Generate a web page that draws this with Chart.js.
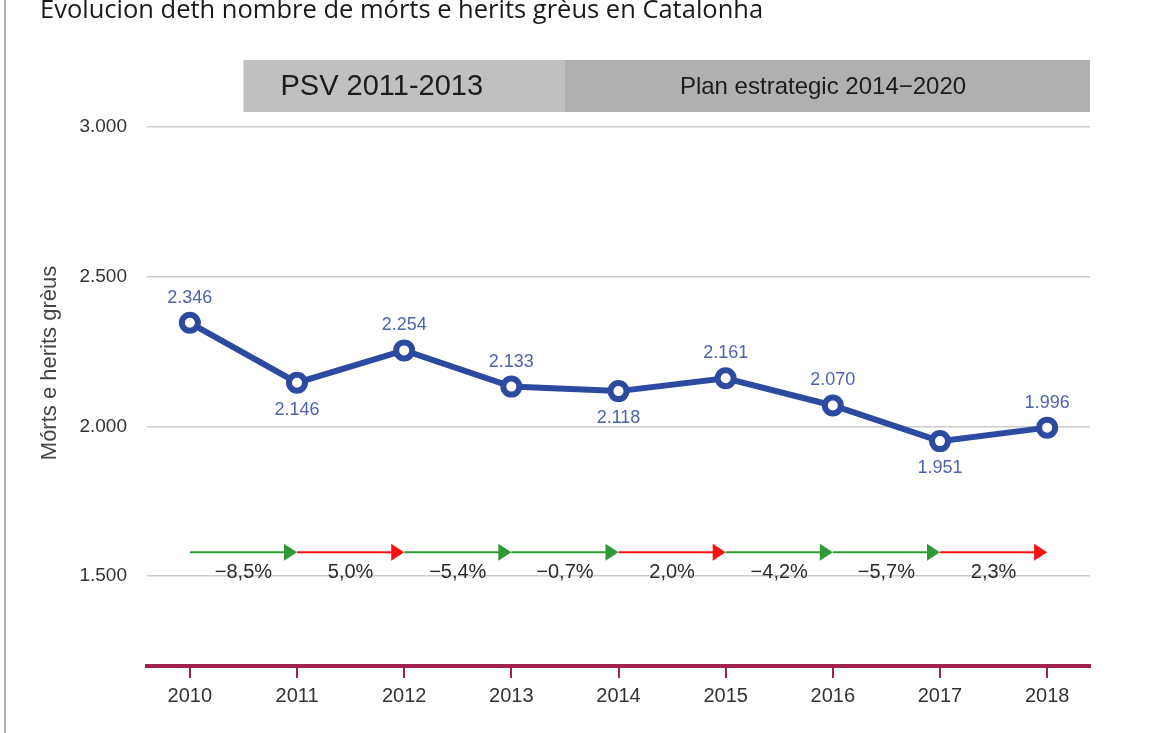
<!DOCTYPE html>
<html>
<head>
<meta charset="utf-8">
<script src="https://cdn.jsdelivr.net/npm/chart.js@4.4.1/dist/chart.umd.min.js"></script>
<style>
    html, body { margin: 0; padding: 0; background: #fff; }
    #wrap { position: relative; width: 1149px; height: 733px; overflow: hidden; }
    #leftRule { position: absolute; left: 4px; top: 0; width: 2px; height: 733px; background: #b0b0b0; }
    canvas { position: absolute; left: 0; top: 0; }
</style>
</head>
<body>
<div id="wrap">
    <div id="leftRule"></div>
    <canvas id="chart" width="1149" height="733"></canvas>
</div>
<script>
// ===== DATA =====
var chartTitle = "Evolucion deth nombre de mórts e herits grèus en Catalonha";
var yTitle = "Mórts e herits grèus";
var years = [2010, 2011, 2012, 2013, 2014, 2015, 2016, 2017, 2018];
var victims = [2346, 2146, 2254, 2133, 2118, 2161, 2070, 1951, 1996];
var changes = [-8.5, 5.0, -5.4, -0.7, 2.0, -4.2, -5.7, 2.3];
var yTicks = [1500, 2000, 2500, 3000];
var periodNames = ["PSV 2011-2013", "Plan estrategic 2014\u22122020"];
var periodStart = [2010.5, 2013.5];
var periodEnd = [2013.5, 2018.4];
var arrowLevel = 1580;

// ===== HELPERS =====
function fmtThousands(v) {
    var s = String(Math.round(v));
    return s.replace(/\B(?=(\d{3})+(?!\d))/g, ".");
}

function fmtChange(v) {
    return (v < 0 ? "\u2212" : "") + Math.abs(v).toFixed(1).replace(".", ",") + "%";
}

function isLocalMin(i) {
    if (i === 0 || i === victims.length - 1) return false;
    return victims[i] < victims[i - 1] && victims[i] < victims[i + 1];
}

// ===== PLUGIN: extras drawn on the canvas =====
var extrasPlugin = {
    id: "extras",
    beforeDatasetsDraw: function (chart) {
        var ctx = chart.ctx;
        var xs = chart.scales.x, ys = chart.scales.y;
        var y = ys.getPixelForValue(arrowLevel);
        ctx.save();
        for (var i = 0; i < changes.length; i++) {
            var x0 = xs.getPixelForValue(years[i]);
            var x1 = xs.getPixelForValue(years[i + 1]);
            var col = changes[i] < 0 ? "#2f9a35" : "#ff1010";
            ctx.strokeStyle = col;
            ctx.fillStyle = col;
            ctx.lineWidth = 2;
            ctx.beginPath();
            ctx.moveTo(x0, y);
            ctx.lineTo(x1 - 12, y);
            ctx.stroke();
            ctx.beginPath();
            ctx.moveTo(x1 - 13, y - 8.5);
            ctx.lineTo(x1, y);
            ctx.lineTo(x1 - 13, y + 8.5);
            ctx.closePath();
            ctx.fill();

            ctx.fillStyle = "#2a2a2a";
            ctx.font = "20px 'Liberation Sans', Arial, sans-serif";
            ctx.textAlign = "center";
            ctx.textBaseline = "middle";
            ctx.fillText(fmtChange(changes[i]), (x0 + x1) / 2, y + 20);
        }
        ctx.restore();
    },
    afterDatasetsDraw: function (chart) {
        var ctx = chart.ctx;
        var meta = chart.getDatasetMeta(0);
        ctx.save();
        ctx.fillStyle = "#4d63ae";
        ctx.font = "18px 'Liberation Sans', Arial, sans-serif";
        ctx.textAlign = "center";
        ctx.textBaseline = "middle";
        meta.data.forEach(function (pt, i) {
            var dy = isLocalMin(i) ? 27 : -25;
            ctx.fillText(fmtThousands(victims[i]), pt.x, pt.y + dy);
        });
        ctx.restore();
    },
    afterDraw: function (chart) {
        var ctx = chart.ctx;
        var xs = chart.scales.x;
        var area = chart.chartArea;
        ctx.save();

        // period bands above the plot
        var bandColors = ["#c0c0c0", "#b0b0b0"];
        var bandFonts = ["29px 'Liberation Sans', Arial, sans-serif", "24px 'Liberation Sans', Arial, sans-serif"];
        var bandInset = [37, 115];
        var top = area.top - 67, h = 52;
        for (var i = 0; i < periodNames.length; i++) {
            var bx0 = xs.getPixelForValue(periodStart[i]);
            var bx1 = xs.getPixelForValue(periodEnd[i]);
            ctx.fillStyle = bandColors[i];
            ctx.fillRect(bx0, top, bx1 - bx0, h);
            ctx.fillStyle = "#1c1c1c";
            ctx.font = bandFonts[i];
            ctx.textAlign = "left";
            ctx.textBaseline = "middle";
            ctx.fillText(periodNames[i], bx0 + bandInset[i], top + h / 2 + 1);
        }

        // chart title
        ctx.fillStyle = "#1a1a1a";
        ctx.font = "25.5px 'Open Sans', sans-serif";
        ctx.textAlign = "left";
        ctx.textBaseline = "alphabetic";
        ctx.fillText(chartTitle, 40, 18);

        // y axis title
        ctx.translate(50, 363);
        ctx.rotate(-Math.PI / 2);
        ctx.fillStyle = "#444";
        ctx.font = "22px 'Liberation Sans', Arial, sans-serif";
        ctx.textAlign = "center";
        ctx.textBaseline = "middle";
        ctx.fillText(yTitle, 0, 0);
        ctx.restore();
    }
};

// ===== CHART =====
var ctx = document.getElementById("chart");
new Chart(ctx, {
    type: "line",
    data: {
        datasets: [{
            data: years.map(function (y, i) { return { x: y, y: victims[i] }; }),
            borderColor: "#2c4a9f",
            borderWidth: 6,
            pointRadius: 8,
            pointBorderWidth: 6,
            pointBackgroundColor: "#ffffff",
            pointBorderColor: "#2c4a9f",
            tension: 0
        }]
    },
    options: {
        responsive: false,
        animation: false,
        events: [],
        layout: { padding: { left: 0, top: 127, right: 59, bottom: 0 } },
        plugins: { legend: { display: false }, tooltip: { enabled: false } },
        scales: {
            x: {
                type: "linear",
                min: 2009.6,
                max: 2018.4,
                afterBuildTicks: function (s) { s.ticks = years.map(function (v) { return { value: v }; }); },
                afterFit: function (s) { s.height = 67; },
                ticks: {
                    callback: function (v) { return String(v); },
                    color: "#333",
                    font: { family: "'Liberation Sans', Arial, sans-serif", size: 20 },
                    padding: 6,
                    maxRotation: 0
                },
                grid: { drawOnChartArea: false, drawTicks: true, tickLength: 12, color: "#a3214d", lineWidth: 2 },
                border: { color: "#a3214d", width: 4 }
            },
            y: {
                min: 1200,
                max: 3000,
                afterBuildTicks: function (s) { s.ticks = yTicks.map(function (v) { return { value: v }; }); },
                afterFit: function (s) { s.width = 147; },
                ticks: {
                    callback: function (v) { return fmtThousands(v); },
                    color: "#333",
                    font: { family: "'Liberation Sans', Arial, sans-serif", size: 19 },
                    padding: 20
                },
                grid: { color: "#cccccc", lineWidth: 1.5, drawTicks: false },
                border: { display: false }
            }
        }
    },
    plugins: [extrasPlugin]
});
</script>
</body>
</html>
